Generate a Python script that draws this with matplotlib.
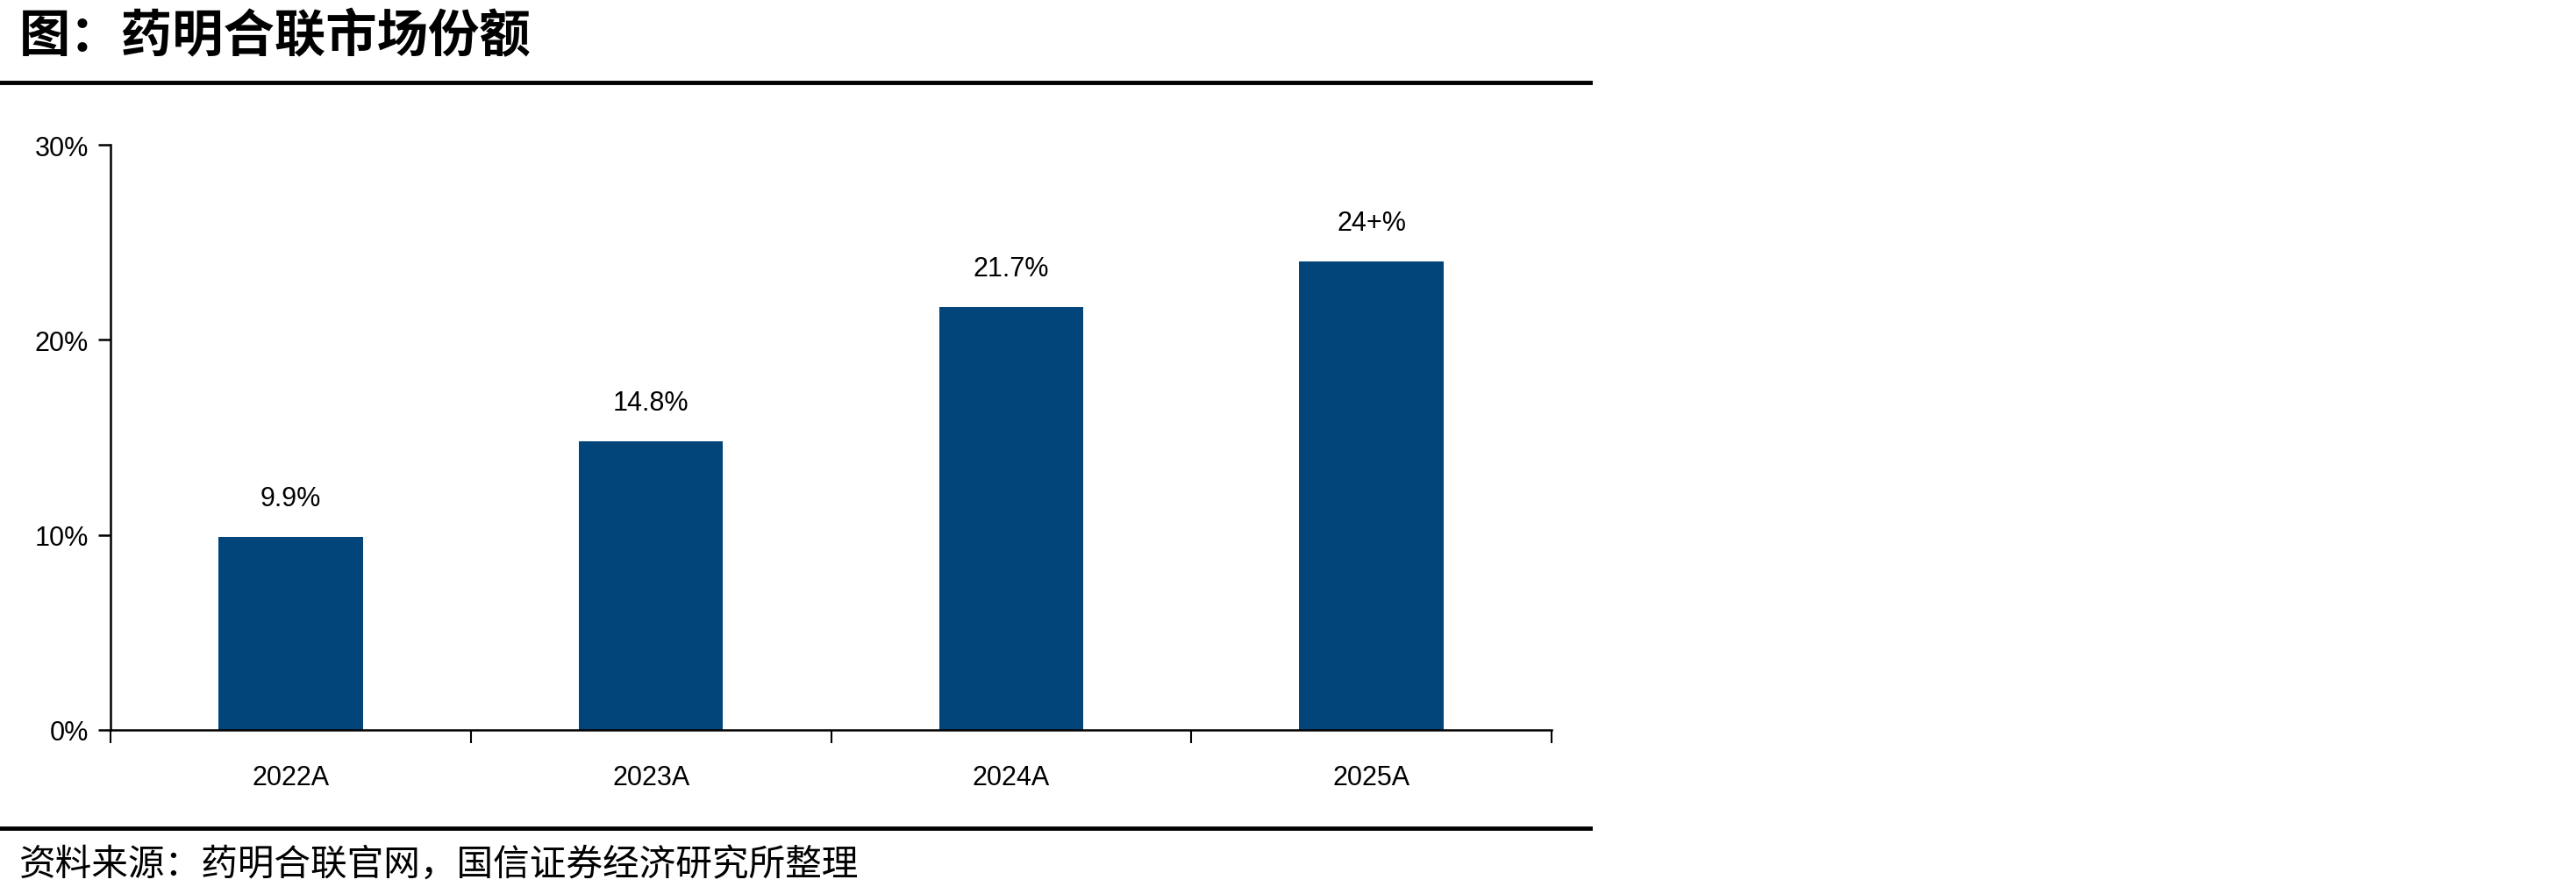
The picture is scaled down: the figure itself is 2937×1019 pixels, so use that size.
import matplotlib
matplotlib.use("Agg")
import matplotlib.pyplot as plt
from matplotlib.lines import Line2D

# 数据
categories = ["2022A", "2023A", "2024A", "2025A"]
share = [9.9, 14.8, 21.7, 24.0]
bar_labels = ["9.9%", "14.8%", "21.7%", "24+%"]
y_ticks = [0, 10, 20, 30]
y_tick_labels = ["0%", "10%", "20%", "30%"]

title = "图：药明合联市场份额"
source = "资料来源：药明合联官网，国信证券经济研究所整理"

W, H = 2937, 1020
DPI = 100
fig = plt.figure(figsize=(W / DPI, H / DPI), dpi=DPI)
fig.patch.set_facecolor("white")

cjk = ["Noto Sans CJK SC", "DejaVu Sans"]
bar_color = "#02457A"

# 标题和来源
fig.text(22 / W, 1 - 42 / H, title, fontsize=42, fontweight="bold",
         family=cjk, ha="left", va="center")
fig.add_artist(Line2D([0, 1813 / W], [1 - 95 / H, 1 - 95 / H],
                      transform=fig.transFigure, color="black", lw=3.5))
fig.add_artist(Line2D([0, 1813 / W], [1 - 945 / H, 1 - 945 / H],
                      transform=fig.transFigure, color="black", lw=3.5))
fig.text(22 / W, 1 - 986 / H, source, fontsize=30,
         family=cjk, ha="left", va="center")

# 坐标轴
left, right, top, bottom = 126, 1769, 166, 833
ax = fig.add_axes([left / W, 1 - bottom / H, (right - left) / W, (bottom - top) / H])

x = list(range(len(categories)))
ax.bar(x, share, width=0.40, color=bar_color, zorder=2)

for xi, v, lab in zip(x, share, bar_labels):
    ax.annotate(lab, (xi, v), xytext=(0, 29), textcoords="offset pixels",
                ha="center", va="bottom", fontsize=22,
                family="Liberation Sans", color="black")

ax.set_xlim(-0.5, len(categories) - 0.5)
ax.set_ylim(0, 30)
ax.set_yticks(y_ticks)
ax.set_yticklabels(y_tick_labels, fontsize=22, family="Liberation Sans")
ax.set_xticks(x)
ax.set_xticklabels(categories, fontsize=22, family="Liberation Sans")
ax.set_xticks([i - 0.5 for i in range(len(categories) + 1)], minor=True)

ax.tick_params(axis="x", which="major", length=0, pad=28)
ax.tick_params(axis="x", which="minor", length=11, width=1.5, direction="out")
ax.tick_params(axis="y", which="major", length=10, width=1.8, direction="out", pad=8)

for s in ["top", "right"]:
    ax.spines[s].set_visible(False)
for s in ["left", "bottom"]:
    ax.spines[s].set_linewidth(1.8)
    ax.spines[s].set_color("black")

fig.savefig("out.png", dpi=DPI, facecolor="white")
